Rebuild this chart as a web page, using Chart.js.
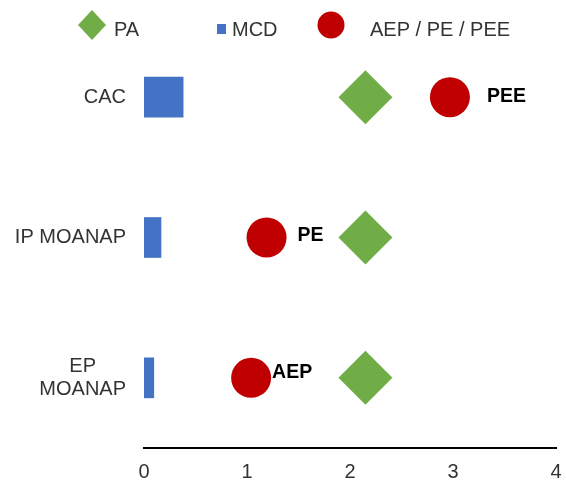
<!DOCTYPE html>
<html>
<head>
<meta charset="utf-8">
<script src="https://cdn.jsdelivr.net/npm/chart.js@4.4.0/dist/chart.umd.min.js"></script>
<style>
  html, body { margin: 0; padding: 0; background: #fff; overflow: hidden; }
  #wrap { width: 566px; height: 480px; overflow: hidden; }
</style>
</head>
<body>
<div id="wrap"><canvas id="chart" width="583" height="504"></canvas></div>
<script>
// Chart data
const categories = ["CAC", "IP MOANAP", ["EP", "MOANAP"]];
const mcdValues = [0.38, 0.165, 0.095];
const paValues = [2.15, 2.15, 2.15];
const aepValues = [2.97, 1.19, 1.04];
const aepLabels = ["PEE", "PE", "AEP"];
const xTicks = [0, 1, 2, 3, 4];

// Styles
const GREEN = "#70AD47";
const BLUE = "#4472C4";
const RED = "#C00000";
const TEXT = "#333333";
const FONT = '"Liberation Sans", Arial, sans-serif';

// label nudges (px) for the red point labels, as placed in the original
const labelShift = [[37, -1], [31, -2], [21, -5]];

// Draws category labels, point labels and the legend
const overlay = {
  id: "overlay",
  afterDraw(chart) {
    const { ctx, chartArea } = chart;
    const yScale = chart.scales.y;
    ctx.save();

    // category labels (block right aligned, lines centred)
    ctx.font = `20px ${FONT}`;
    ctx.fillStyle = TEXT;
    ctx.textAlign = "center";
    ctx.textBaseline = "middle";
    chart.data.labels.forEach((lab, i) => {
      const lines = [].concat(lab);
      const w = Math.max(...lines.map((l) => ctx.measureText(l).width));
      const cx = chartArea.left - 18 - w / 2;
      const cy = yScale.getPixelForValue(i);
      lines.forEach((l, j) => {
        ctx.fillText(l, cx, cy + (j - (lines.length - 1) / 2) * 22.5);
      });
    });

    // point labels
    const meta = chart.getDatasetMeta(2);
    ctx.font = `bold 19.5px ${FONT}`;
    ctx.fillStyle = "#000";
    ctx.textAlign = "left";
    meta.data.forEach((pt, i) => {
      ctx.fillText(aepLabels[i], pt.x + labelShift[i][0], pt.y + labelShift[i][1]);
    });

    // legend
    const legend = [
      { ds: 1, shape: "diamond", x: 92, y: 25, r: 14, tx: 114 },
      { ds: 0, shape: "square", x: 221.5, y: 29, r: 5, tx: 232 },
      { ds: 2, shape: "circle", x: 331, y: 25, r: 13.5, tx: 370 },
    ];
    ctx.font = `20px ${FONT}`;
    legend.forEach((item) => {
      const ds = chart.data.datasets[item.ds];
      ctx.fillStyle = ds.backgroundColor;
      ctx.beginPath();
      if (item.shape === "diamond") {
        ctx.moveTo(item.x - item.r, item.y);
        ctx.lineTo(item.x, item.y - item.r - 1);
        ctx.lineTo(item.x + item.r, item.y);
        ctx.lineTo(item.x, item.y + item.r + 1);
        ctx.closePath();
      } else if (item.shape === "square") {
        ctx.rect(item.x - 4.5, item.y - item.r, 9, item.r * 2);
      } else {
        ctx.arc(item.x, item.y, item.r, 0, Math.PI * 2);
      }
      ctx.fill();
      ctx.fillStyle = TEXT;
      ctx.fillText(ds.label, item.tx, 30);
    });

    ctx.restore();
  },
};

const ctx = document.getElementById("chart").getContext("2d");

const chart = new Chart(ctx, {
  data: {
    labels: categories,
    datasets: [
      {
        type: "bar",
        label: "MCD",
        indexAxis: "y",
        data: mcdValues,
        backgroundColor: BLUE,
        barThickness: 40,
        order: 3,
      },
      {
        type: "line",
        label: "PA",
        indexAxis: "y",
        data: paValues,
        showLine: false,
        pointStyle: "rectRot",
        pointRadius: 27,
        pointHoverRadius: 27,
        pointBackgroundColor: GREEN,
        pointBorderWidth: 0,
        backgroundColor: GREEN,
        order: 2,
      },
      {
        type: "line",
        label: "AEP / PE / PEE",
        indexAxis: "y",
        data: aepValues,
        showLine: false,
        pointStyle: "circle",
        pointRadius: 20,
        pointHoverRadius: 20,
        pointBackgroundColor: RED,
        pointBorderWidth: 0,
        backgroundColor: RED,
        order: 1,
      },
    ],
  },
  options: {
    indexAxis: "y",
    responsive: false,
    animation: false,
    devicePixelRatio: 1,
    layout: { padding: { left: 144, right: 9, top: 23, bottom: 8 } },
    plugins: {
      legend: { display: false },
      tooltip: { enabled: false },
    },
    scales: {
      x: {
        type: "linear",
        min: xTicks[0],
        max: xTicks[xTicks.length - 1],
        afterBuildTicks: (axis) => {
          axis.ticks = xTicks.map((v) => ({ value: v }));
        },
        grid: { display: false, drawTicks: false },
        border: { display: true, color: "#000", width: 2 },
        ticks: {
          padding: 12,
          color: TEXT,
          font: { family: FONT, size: 20 },
        },
      },
      y: {
        type: "category",
        offset: true,
        display: false,
        afterFit: (axis) => {
          axis.paddingTop = 0;
          axis.paddingBottom = 0;
        },
      },
    },
  },
  plugins: [overlay],
});
</script>
</body>
</html>
